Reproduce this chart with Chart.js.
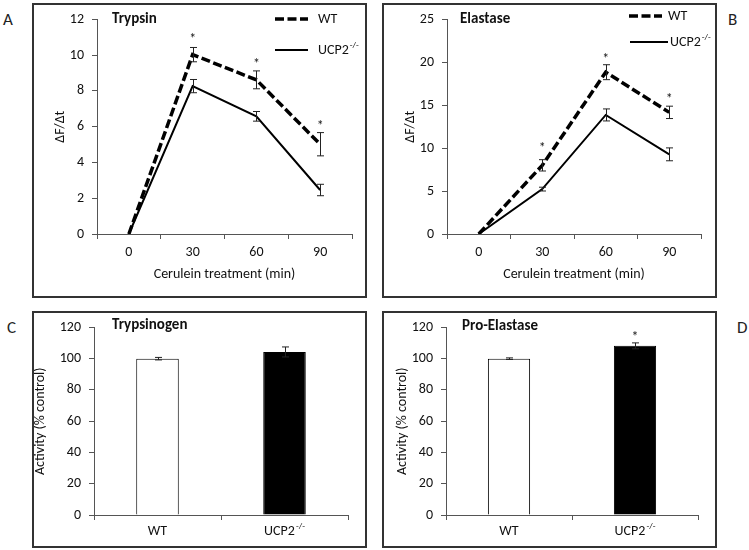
<!DOCTYPE html>
<html><head><meta charset="utf-8">
<script src="https://cdn.jsdelivr.net/npm/chart.js@4.4.0/dist/chart.umd.min.js"></script>
<style>
body{margin:0;width:749px;height:550px;background:#fff;position:relative;overflow:hidden;font-family:Carlito,Lato,sans-serif}
.pan{position:absolute;}
.pan canvas{position:absolute;left:0;top:0;}
.box{position:absolute;left:0;top:0;right:0;bottom:0;box-sizing:border-box;border:2px solid #333;pointer-events:none;}
.letter{position:absolute;font-size:17px;line-height:17px;color:#222;}
</style></head><body>
<div class="letter" style="left:3px;top:11px">A</div>
<div class="letter" style="left:728px;top:11px">B</div>
<div class="letter" style="left:7px;top:319px">C</div>
<div class="letter" style="left:737px;top:319px">D</div>
<div class="pan" style="left:32px;top:3px;width:335px;height:295px"><canvas id="cA" width="335" height="295"></canvas><div class="box"></div></div>
<div class="pan" style="left:382px;top:3px;width:335px;height:295px"><canvas id="cB" width="335" height="295"></canvas><div class="box"></div></div>
<div class="pan" style="left:32px;top:311px;width:335px;height:237px"><canvas id="cC" width="335" height="237"></canvas><div class="box"></div></div>
<div class="pan" style="left:382px;top:311px;width:335px;height:237px"><canvas id="cD" width="335" height="237"></canvas><div class="box"></div></div>
<script>
// ---------- data ----------
const timeLabels = ['0', '30', '60', '90'];
const seriesNames = ['WT', 'UCP2'];
const koSup = '-/-';

const trypsinWT = [0, 10.03, 8.62, 5.02];
const trypsinWTErr = [0, 0.4, 0.5, 0.65];
const trypsinKO = [0, 8.27, 6.58, 2.46];
const trypsinKOErr = [0, 0.37, 0.27, 0.32];
const trypsinStars = [null, 11.1, 9.75, 6.27];

const elastaseWT = [0, 8.0, 18.85, 14.17];
const elastaseWTErr = [0, 0.66, 0.87, 0.72];
const elastaseKO = [0, 5.23, 13.87, 9.28];
const elastaseKOErr = [0, 0.22, 0.7, 0.75];
const elastaseStars = [null, 10.45, 20.9, 16.24];

const genotypes = ['WT', 'UCP2'];
const trypsinogen = [100, 104.3];
const trypsinogenErr = [0.8, 3.2];
const trypsinogenStars = [null, null];
const proElastase = [100, 108.2];
const proElastaseErr = [0.5, 1.9];
const proElastaseStars = [null, 116.7];

const lineTicksA = [0, 2, 4, 6, 8, 10, 12];
const lineTicksB = [0, 5, 10, 15, 20, 25];
const barTicks = [0, 20, 40, 60, 80, 100, 120];

// ---------- helpers ----------
const FONT = 'Carlito, Lato, "Open Sans", sans-serif';
const TXT = '#111';
const AX = '#555';
const FS = 14;

function drawRich(ctx, main, sup, x, y, size, align, bold) {
  const f = (bold ? 'bold ' : '') + size + 'px ' + FONT;
  const fs = Math.round(size * 0.62) + 'px ' + FONT;
  ctx.font = f; const w1 = ctx.measureText(main).width;
  ctx.font = fs; const w2 = sup ? ctx.measureText(sup).width + 1 : 0;
  let x0 = x;
  if (align === 'center') x0 = x - (w1 + w2) / 2;
  else if (align === 'right') x0 = x - w1 - w2;
  ctx.textAlign = 'left'; ctx.textBaseline = 'middle'; ctx.fillStyle = TXT;
  ctx.font = f; ctx.fillText(main, x0, y);
  if (sup) { ctx.font = fs; ctx.fillText(sup, x0 + w1 + 1, y - size * 0.32); }
}

const decor = {
  id: 'decor',
  afterDatasetsDraw(chart, args, o) {
    const ctx = chart.ctx, xs = chart.scales.x, ys = chart.scales.y, ca = chart.chartArea;
    ctx.save();
    // error bars
    (o.errors || []).forEach(e => {
      e.values.forEach((v, i) => {
        const err = e.err[i]; if (!err) return;
        const px = Math.round(xs.getPixelForValue(i)) + 0.5;
        const yt = ys.getPixelForValue(v + err), yb = ys.getPixelForValue(v - err);
        ctx.strokeStyle = e.color || '#222'; ctx.lineWidth = 1;
        ctx.beginPath();
        ctx.moveTo(px, yt); ctx.lineTo(px, yb);
        ctx.moveTo(px - 3.5, yt); ctx.lineTo(px + 3.5, yt);
        ctx.moveTo(px - 3.5, yb); ctx.lineTo(px + 3.5, yb);
        ctx.stroke();
      });
    });
    // stars
    (o.stars || []).forEach((s, i) => {
      if (s == null) return;
      ctx.font = '14px ' + FONT; ctx.fillStyle = TXT; ctx.textAlign = 'center'; ctx.textBaseline = 'alphabetic';
      ctx.fillText('*', xs.getPixelForValue(i), ys.getPixelForValue(s) + 8);
    });
    // title
    drawRich(ctx, o.title, null, ca.left + o.titleDx, o.titleY, 15, 'left', true);
    // axis titles
    if (o.xTitle) drawRich(ctx, o.xTitle, null, (ca.left + ca.right) / 2, ca.bottom + o.xTitleDy, FS, 'center');
    ctx.save();
    ctx.translate(o.yTitleX, (ca.top + ca.bottom) / 2);
    ctx.rotate(-Math.PI / 2);
    drawRich(ctx, o.yTitle, null, 0, 0, FS, 'center');
    ctx.restore();
    // custom x labels
    if (o.xLabels) {
      o.xLabels.forEach((l, i) => {
        drawRich(ctx, l, i === 1 ? koSup : null, xs.getPixelForValue(i), ca.bottom + o.xLabelDy, FS, 'center');
      });
    }
    // legend
    if (o.legend) {
      const L = o.legend;
      ctx.strokeStyle = '#000';
      ctx.lineWidth = 3.5; ctx.setLineDash([9, 3.5]);
      ctx.beginPath(); ctx.moveTo(L.x1, L.y1); ctx.lineTo(L.x2, L.y1); ctx.stroke();
      ctx.setLineDash([]); ctx.lineWidth = 2;
      ctx.beginPath(); ctx.moveTo(L.x1b, L.y2); ctx.lineTo(L.x2b, L.y2); ctx.stroke();
      drawRich(ctx, seriesNames[0], null, L.tx1, L.y1, FS, 'left');
      drawRich(ctx, seriesNames[1], koSup, L.tx2, L.y2, FS, 'left');
    }
    ctx.restore();
  }
};

function yScale(ticks, width) {
  return {
    min: ticks[0], max: ticks[ticks.length - 1],
    afterBuildTicks: s => { s.ticks = ticks.map(v => ({ value: v })); },
    afterFit: s => { s.width = width; },
    grid: { drawOnChartArea: false, drawTicks: true, tickLength: 5, color: AX },
    border: { display: true, color: AX, width: 1 },
    ticks: { color: TXT, padding: 8, font: { family: FONT, size: FS } }
  };
}
function xScale(height, showLabels) {
  return {
    type: 'category', offset: true,
    afterFit: s => { s.height = height; },
    grid: { offset: true, drawOnChartArea: false, drawTicks: true, tickLength: 5, color: AX },
    border: { display: true, color: AX, width: 1 },
    ticks: { display: showLabels, color: TXT, padding: 5, font: { family: FONT, size: FS }, maxRotation: 0 }
  };
}

function lineChart(id, wt, wtErr, ko, koErr, stars, ticks, extra, pad) {
  return new Chart(document.getElementById(id), {
    type: 'line',
    data: {
      labels: timeLabels,
      datasets: [
        { label: seriesNames[0], data: wt, borderColor: '#000', borderWidth: 3.5, borderDash: [9, 3.5], pointRadius: 0, tension: 0, fill: false },
        { label: seriesNames[1], data: ko, borderColor: '#000', borderWidth: 2, pointRadius: 0, tension: 0, fill: false }
      ]
    },
    options: {
      responsive: false, animation: false, devicePixelRatio: 1,
      layout: { padding: pad },
      plugins: {
        legend: { display: false }, tooltip: { enabled: false },
        decor: Object.assign({
          errors: [{ values: wt, err: wtErr }, { values: ko, err: koErr }],
          stars: stars, yTitle: 'ΔF/Δt', xTitle: 'Cerulein treatment (min)', xTitleDy: 40
        }, extra)
      },
      scales: { x: xScale(64, true), y: yScale(ticks, 65) }
    },
    plugins: [decor]
  });
}

function barChart(id, vals, errs, stars, extra, pad) {
  return new Chart(document.getElementById(id), {
    type: 'bar',
    data: {
      labels: genotypes,
      datasets: [{ data: vals, backgroundColor: ['#fff', '#000'], borderColor: '#000', borderWidth: 1, barPercentage: 0.335, categoryPercentage: 1 }]
    },
    options: {
      responsive: false, animation: false, devicePixelRatio: 1,
      layout: { padding: pad },
      plugins: {
        legend: { display: false }, tooltip: { enabled: false },
        decor: Object.assign({
          errors: [{ values: vals, err: errs }],
          stars: stars, yTitle: 'Activity (% control)', xLabels: genotypes, xLabelDy: 16
        }, extra)
      },
      scales: { x: xScale(33, false), y: yScale(barTicks, extra.yw) }
    },
    plugins: [decor]
  });
}

lineChart('cA', trypsinWT, trypsinWTErr, trypsinKO, trypsinKOErr, trypsinStars, lineTicksA,
  { title: 'Trypsin', titleDx: 15, titleY: 16, yTitleX: 28,
    legend: { x1: 243, x2: 276, y1: 16, x1b: 243, x2b: 276, y2: 47, tx1: 286, tx2: 286 } },
  { left: 0, top: 16, right: 15, bottom: 0 });

lineChart('cB', elastaseWT, elastaseWTErr, elastaseKO, elastaseKOErr, elastaseStars, lineTicksB,
  { title: 'Elastase', titleDx: 13, titleY: 16, yTitleX: 28,
    legend: { x1: 247, x2: 280, y1: 13, x1b: 248, x2b: 286, y2: 39, tx1: 286, tx2: 288 } },
  { left: 0, top: 16, right: 16, bottom: 0 });

barChart('cC', trypsinogen, trypsinogenErr, trypsinogenStars,
  { title: 'Trypsinogen', titleDx: 18, titleY: 14, yTitleX: 8, yw: 62 },
  { left: 0, top: 12, right: 19, bottom: 0 });

barChart('cD', proElastase, proElastaseErr, proElastaseStars,
  { title: 'Pro-Elastase', titleDx: 16, titleY: 15, yTitleX: 20, yw: 64 },
  { left: 0, top: 13, right: 19, bottom: 0 });
</script>
</body></html>
